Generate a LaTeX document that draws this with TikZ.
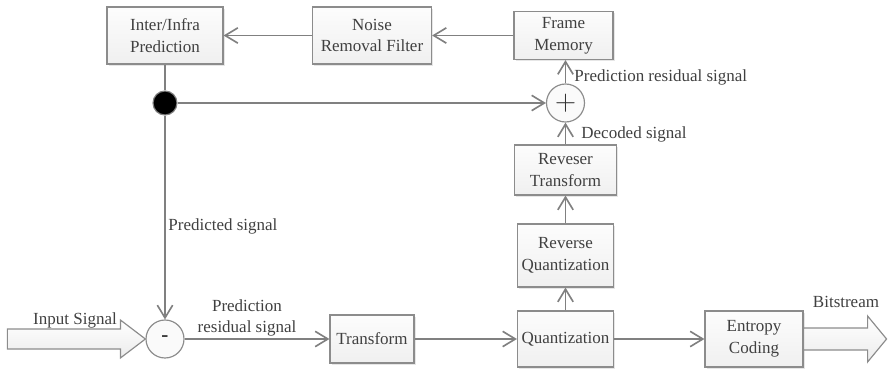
\documentclass[tikz,border=0pt]{standalone}
\usepackage{fontspec}
\setmainfont{Liberation Serif}
\usetikzlibrary{arrows.meta,shadows}

\begin{document}
\begin{tikzpicture}[x=0.03cm,y=-0.03cm,font=\fontsize{14.5}{18.5}\selectfont,
  block/.style={draw=gray!90,line width=1pt,top color=gray!2,bottom color=gray!12,
    drop shadow={shadow xshift=0.05cm,shadow yshift=-0.05cm,opacity=0.2},
    align=center,inner sep=0pt,text=black!75},
  junction/.style={circle,draw=gray!90,line width=1pt,fill=gray!4,minimum size=1.14cm,inner sep=0pt,text=black!80},
  flow/.style={draw=gray,line width=1.4pt,-{Straight Barb[length=0.38cm,width=0.46cm,line width=1.4pt]}},
  wire/.style={draw=gray,line width=1.4pt},
  bigarrow/.style={draw=gray!90,line width=1pt,top color=white,bottom color=gray!15},
  lbl/.style={text=black!75,inner sep=1pt}]
\useasboundingbox (0,0) rectangle (889,369);
% blocks
\node[block,minimum width=3.48cm,minimum height=1.71cm] (pred) at (165,35.5) {Inter/Infra\\Prediction};
\node[block,minimum width=3.57cm,minimum height=1.71cm] (filter) at (372,35.5) {Noise\\Removal Filter};
\node[block,minimum width=2.97cm,minimum height=1.44cm] (memory) at (563.5,35.5) {Frame\\Memory};
\node[block,minimum width=3.06cm,minimum height=1.5cm] (revtrans) at (565.5,170) {Reveser\\Transform};
\node[block,minimum width=2.88cm,minimum height=1.89cm] (revquant) at (565.5,255.5) {Reverse\\Quantization};
\node[block,minimum width=2.88cm,minimum height=1.68cm] (quant) at (565.5,339) {Quantization};
\node[block,minimum width=2.94cm,minimum height=1.68cm] (entropy) at (754,339) {Entropy\\Coding};
\node[block,minimum width=2.52cm,minimum height=1.44cm] (transform) at (372,339) {Transform};
% junctions
\node[junction,font=\fontsize{28}{28}\selectfont] (plus) at (565.5,103) {$+$};
\node[junction,font=\fontsize{18}{18}\selectfont\bfseries] (minus) at (165,339) {-};
\node[circle,fill=black,draw=gray,line width=1pt,minimum size=0.72cm,inner sep=0pt] (tap) at (165,103) {};
% connectors
\draw[flow] (filter) -- (pred);
\draw[flow] (memory) -- (filter);
\draw[wire] (pred) -- (tap);
\draw[flow] (tap) -- (plus);
\draw[flow] (tap) -- (minus);
\draw[flow] (plus) -- (plus|-memory.south);
\draw[flow] (revtrans) -- (plus);
\draw[flow] (revquant) -- (revtrans);
\draw[flow] (quant) -- (revquant);
\draw[flow] (minus) -- (transform);
\draw[flow] (transform) -- (quant);
\draw[flow] (quant) -- (entropy);
% input and output
\draw[bigarrow] (minus.west) -- ++(-25,-19) -- ++(0,9) -- ++(-113,0) -- ++(0,20) -- ++(113,0) -- ++(0,9) -- cycle;
\draw[bigarrow] (entropy.east) -- ++(0,-11) -- ++(64,0) -- ++(0,-12) -- ++(19,23) -- ++(-19,23) -- ++(0,-12) -- ++(-64,0) -- cycle;
% labels
\node[lbl] (inlbl) at (75,320) {Input Signal};
\node[lbl] (bitlbl) at (846,302) {Bitstream};
\node[lbl,anchor=west] (predlbl) at (167,226) {Predicted signal};
\node[lbl,align=center] (reslbl) at (247,318) {Prediction\\residual signal};
\node[lbl,anchor=west] (memlbl) at (573,77) {Prediction residual signal};
\node[lbl,anchor=west] (declbl) at (580,134) {Decoded signal};
\end{tikzpicture}
\end{document}
